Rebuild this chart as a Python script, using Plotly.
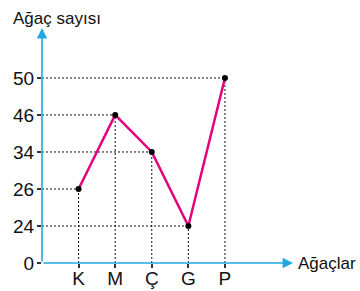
import plotly.graph_objects as go

trees = ["K", "M", "Ç", "G", "P"]
counts = [26, 46, 34, 24, 50]
y_ticks = [0, 24, 26, 34, 46, 50]

y_cats = [str(v) for v in y_ticks]
y_vals = [str(v) for v in counts]

AXIS_BLUE = "#22a8e0"
PINK = "#e5007e"
FONT = "Liberation Sans, Arial, sans-serif"
GUIDE = dict(color="#111", width=1, dash="2px,2px")

fig = go.Figure()

fig.add_trace(go.Scatter(
    x=trees, y=y_vals, mode="lines+markers",
    line=dict(color=PINK, width=2.5),
    marker=dict(color="black", size=6),
    hoverinfo="skip", showlegend=False, cliponaxis=False,
))

shapes = []
for i, (t, v) in enumerate(zip(trees, counts)):
    j = y_ticks.index(v)
    shapes.append(dict(type="line", xref="x", yref="y", x0=-1, x1=i, y0=j, y1=j,
                       line=GUIDE, layer="below"))
    shapes.append(dict(type="line", xref="x", yref="y", x0=i, x1=i, y0=0, y1=j,
                       line=GUIDE, layer="below"))

annotations = [
    dict(xref="x domain", yref="y domain", axref="x domain", ayref="y domain",
         x=1, y=0, ax=0, ay=0, text="", showarrow=True,
         arrowhead=2, arrowsize=1.3, arrowwidth=1.6, arrowcolor=AXIS_BLUE),
    dict(xref="x domain", yref="y domain", axref="x domain", ayref="y domain",
         x=0, y=1, ax=0, ay=0, text="", showarrow=True,
         arrowhead=2, arrowsize=1.3, arrowwidth=1.6, arrowcolor=AXIS_BLUE),
    dict(xref="paper", yref="paper", x=1, y=0, xanchor="left", yanchor="middle",
         xshift=3, text="Ağaçlar", showarrow=False,
         font=dict(family=FONT, size=17, color="#111")),
    dict(xref="paper", yref="paper", x=0, y=1, xanchor="left", yanchor="bottom",
         xshift=-31, yshift=-2, text="Ağaç sayısı", showarrow=False,
         font=dict(family=FONT, size=17, color="#111")),
]

fig.update_layout(
    width=360, height=291,
    margin=dict(l=42, r=67, t=28, b=28, autoexpand=False),
    paper_bgcolor="white", plot_bgcolor="white",
    shapes=shapes, annotations=annotations,
    font=dict(family=FONT, color="#111"),
    xaxis=dict(type="category", categoryarray=trees, range=[-1, 5.86],
               automargin=False,
               showgrid=False, zeroline=False, showline=False,
               ticks="outside", ticklen=4, tickwidth=1.5, tickcolor="#333",
               ticklabelstandoff=-6,
               tickfont=dict(size=19, family=FONT, color="#111")),
    yaxis=dict(type="category", categoryarray=y_cats, range=[0, 6.35],
               automargin=False,
               showgrid=False, zeroline=False, showline=False,
               ticks="outside", ticklen=4, tickwidth=1.5, tickcolor="#333",
               ticklabelstandoff=-1,
               tickfont=dict(size=19, family=FONT, color="#111")),
)

fig.write_html("out.html", config={"displayModeBar": False},
               post_script="document.body.style.margin='0';")
